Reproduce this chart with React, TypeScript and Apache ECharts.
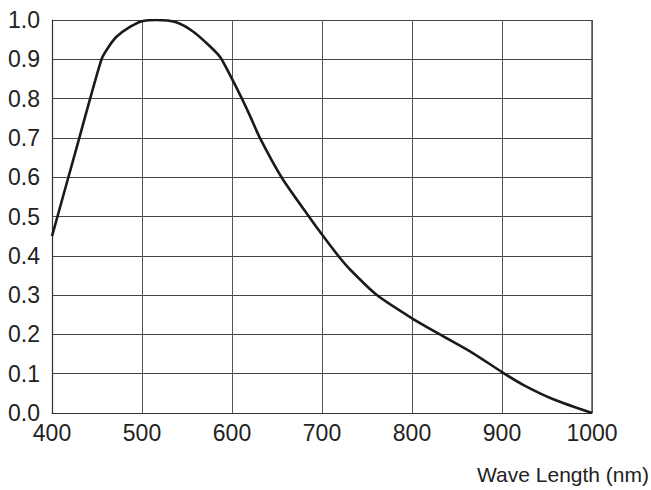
import React, { useEffect, useRef } from "react";
import * as echarts from "echarts";

const wavelengths = [400, 430, 455, 463, 472, 487, 500, 516, 538, 557, 576, 587, 600, 611, 620, 631, 655, 687, 700, 718, 730, 761, 800, 831, 868, 900, 924, 957, 1000];
const response = [0.45, 0.697, 0.90, 0.932, 0.958, 0.983, 0.997, 1.0, 0.994, 0.970, 0.932, 0.905, 0.850, 0.80, 0.756, 0.70, 0.60, 0.495, 0.454, 0.40, 0.368, 0.30, 0.241, 0.20, 0.152, 0.104, 0.071, 0.035, 0.0];
const xTitle = "Wave Length (nm)";

const tickFont = "'Liberation Sans', Arial, Helvetica, sans-serif";

export default function App() {
  const ref = useRef<HTMLDivElement>(null);
  useEffect(() => {
    if (!ref.current) return;
    const chart = echarts.init(ref.current, undefined, { renderer: "svg" });
    const data = wavelengths.map((w, i) => [w, response[i]]);
    chart.setOption({
      animation: false,
      backgroundColor: "#ffffff",
      grid: { left: 52, top: 20, width: 540, height: 393, containLabel: false },
      xAxis: {
        type: "value",
        min: 400,
        max: 1000,
        interval: 100,
        axisLine: { show: true, lineStyle: { color: "#333", width: 1.2 } },
        axisTick: { show: false },
        splitLine: { show: true, lineStyle: { color: "#555", width: 1 } },
        axisLabel: {
          fontFamily: tickFont,
          fontSize: 23,
          color: "#222",
          margin: 8,
          formatter: (v: number) => String(v),
        },
      },
      yAxis: {
        type: "value",
        min: 0,
        max: 1,
        interval: 0.1,
        axisLine: { show: true, lineStyle: { color: "#333", width: 1.2 } },
        axisTick: { show: false },
        splitLine: { show: true, lineStyle: { color: "#444", width: 1 } },
        axisLabel: {
          fontFamily: tickFont,
          fontSize: 23,
          color: "#222",
          margin: 12,
          formatter: (v: number) => v.toFixed(1),
        },
      },
      graphic: [
        {
          type: "rect",
          shape: { x: 592, y: 20, width: 0, height: 393 },
          style: { stroke: "#555", lineWidth: 1, fill: "none" },
          silent: true,
        },
        {
          type: "text",
          right: 2,
          top: 464,
          style: {
            text: xTitle,
            fontFamily: tickFont,
            fontSize: 21,
            fill: "#222",
          },
        },
      ],
      series: [
        {
          type: "line",
          data,
          smooth: 0.25,
          symbol: "none",
          lineStyle: { color: "#1a1a1a", width: 2.6 },
        },
      ],
    });
    return () => chart.dispose();
  }, []);
  return (
    <div
      ref={ref}
      style={{ position: "fixed", left: 0, top: 0, width: 651, height: 490, background: "#fff" }}
    />
  );
}
